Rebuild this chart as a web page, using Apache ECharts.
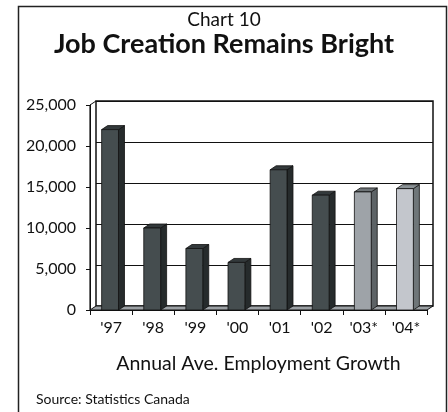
<!DOCTYPE html>
<html>
<head>
<meta charset="utf-8">
<script src="https://cdn.jsdelivr.net/npm/echarts@6/dist/echarts.min.js"></script>
<style>html,body{margin:0;padding:0;background:#fff;}#c{width:448px;height:412px;}</style>
</head>
<body>
<div id="c"></div>
<script>
// ---- data ----
var categories = ["'97", "'98", "'99", "'00", "'01", "'02", "'03*", "'04*"];
var employmentGrowth = [22000, 10000, 7500, 5800, 17100, 14000, 14400, 14800];
var yTicks = [0, 5000, 10000, 15000, 20000, 25000];
var chartNumber = 'Chart 10';
var chartTitle = 'Job Creation Remains Bright';
var axisTitle = 'Annual Ave. Employment Growth';
var sourceNote = 'Source: Statistics Canada';

// ---- style ----
var FONT = 'Lato, "Open Sans", sans-serif';
var DX = 6, DY = -4;
var palettes = [
  {front: '#454d4f', side: '#262b2c', top: '#33393b'},
  {front: '#454d4f', side: '#262b2c', top: '#33393b'},
  {front: '#454d4f', side: '#262b2c', top: '#33393b'},
  {front: '#454d4f', side: '#262b2c', top: '#33393b'},
  {front: '#454d4f', side: '#262b2c', top: '#33393b'},
  {front: '#454d4f', side: '#262b2c', top: '#33393b'},
  {front: '#9ea3a8', side: '#5d6366', top: '#6d7376'},
  {front: '#c3c6cc', side: '#6f7679', top: '#8b9296'}
];

var chart = echarts.init(document.getElementById('c'), null, {renderer: 'canvas'});

var yMin = yTicks[0], yMax = yTicks[yTicks.length - 1], yStep = yTicks[1] - yTicks[0];

function fmt(v) { return v.toLocaleString('en-US'); }

var option = {
  animation: false,
  backgroundColor: '#fff',
  title: [
    {text: chartNumber, left: 'center', top: 5,
     textStyle: {fontFamily: FONT, fontSize: 19, fontWeight: 'normal', color: '#111', letterSpacing: 1.6}},
    {text: chartTitle, left: 'center', top: 26,
     textStyle: {fontFamily: FONT, fontSize: 27, fontWeight: 'bold', color: '#111', letterSpacing: 0.6}}
  ],
  grid: [
    {left: 90, top: 105, width: 337, height: 205, show: false},
    {left: 96, top: 101, width: 337, height: 205, show: true, borderColor: '#111', borderWidth: 1.5, backgroundColor: '#fff'}
  ],
  xAxis: [
    {type: 'category', gridIndex: 0, data: categories, boundaryGap: true,
     axisLine: {show: true, lineStyle: {color: '#111', width: 1}},
     axisTick: {show: true, length: 5, lineStyle: {color: '#111'}, alignWithLabel: false},
     axisLabel: {fontFamily: FONT, fontSize: 16, color: '#111', margin: 10, letterSpacing: 0.5},
     name: axisTitle, nameLocation: 'middle', nameGap: 44,
     nameTextStyle: {fontFamily: FONT, fontSize: 19.5, color: '#111'},
     z: 1},
    {type: 'category', gridIndex: 1, data: categories, boundaryGap: true,
     axisLine: {show: false}, axisTick: {show: false}, axisLabel: {show: false}}
  ],
  yAxis: [
    {type: 'value', gridIndex: 0, min: yMin, max: yMax, interval: yStep,
     axisLine: {show: true, lineStyle: {color: '#111', width: 1}},
     axisTick: {show: true, length: 4, lineStyle: {color: '#111'}},
     axisLabel: {fontFamily: FONT, fontSize: 16, color: '#111', margin: 14, formatter: fmt, letterSpacing: 1},
     splitLine: {show: false}},
    {type: 'value', gridIndex: 1, min: yMin, max: yMax, interval: yStep,
     axisLine: {show: false}, axisTick: {show: false}, axisLabel: {show: false},
     splitLine: {show: true, lineStyle: {color: '#111', width: 1.2}}}
  ],
  series: [
    {
      // floor & side wall edge
      type: 'custom', xAxisIndex: 0, yAxisIndex: 0, z: 2,
      data: [[0]],
      renderItem: function (params, api) {
        var n = categories.length;
        var bw = api.size([1, 0])[0];
        var fl = api.coord([0, yMin]); fl[0] -= bw / 2;
        var fr = api.coord([n - 1, yMin]); fr[0] += bw / 2;
        var tl = api.coord([0, yMax]); tl[0] -= bw / 2;
        return {type: 'group', children: [
          {type: 'polygon', shape: {points: [[fl[0], fl[1]], [fr[0], fr[1]], [fr[0] + DX, fr[1] + DY], [fl[0] + DX, fl[1] + DY]]},
           style: {fill: '#9ba0a4', stroke: '#111', lineWidth: 1}},
          {type: 'line', shape: {x1: tl[0], y1: tl[1], x2: tl[0] + DX, y2: tl[1] + DY},
           style: {stroke: '#111', lineWidth: 1}},
          {type: 'line', shape: {x1: tl[0], y1: tl[1], x2: fl[0], y2: fl[1]},
           style: {stroke: '#111', lineWidth: 1.2}}
        ]};
      }
    },
    {
      type: 'custom', xAxisIndex: 0, yAxisIndex: 0, z: 3,
      data: employmentGrowth.map(function (v, i) { return [i, v]; }),
      encode: {x: 0, y: 1},
      renderItem: function (params, api) {
        var i = api.value(0), v = api.value(1);
        var top = api.coord([i, v]);
        var base = api.coord([i, yMin]);
        var bw = api.size([1, 0])[0] * 0.4;
        var x0 = top[0] - bw / 2 - 1, x1 = top[0] + bw / 2 - 1;
        var yt = top[1], yb = base[1];
        var p = palettes[i];
        var st = {stroke: '#111', lineWidth: 0.8};
        return {type: 'group', children: [
          {type: 'polygon', shape: {points: [[x1, yt], [x1 + DX, yt + DY], [x1 + DX, yb + DY], [x1, yb]]},
           style: Object.assign({fill: p.side}, st)},
          {type: 'polygon', shape: {points: [[x0, yt], [x1, yt], [x1 + DX, yt + DY], [x0 + DX, yt + DY]]},
           style: Object.assign({fill: p.top}, st)},
          {type: 'rect', shape: {x: x0, y: yt, width: bw, height: yb - yt},
           style: Object.assign({fill: p.front}, st)}
        ]};
      }
    }
  ],
  graphic: [
    {type: 'rect', left: 16, top: 4, shape: {width: 428, height: 420},
     style: {fill: 'none', stroke: '#222', lineWidth: 1.5}, z: 100},
    {type: 'text', left: 36, top: 392,
     style: {text: sourceNote, fontFamily: FONT, fontSize: 14, fill: '#111'}}
  ]
};
chart.setOption(option);
</script>
</body>
</html>
